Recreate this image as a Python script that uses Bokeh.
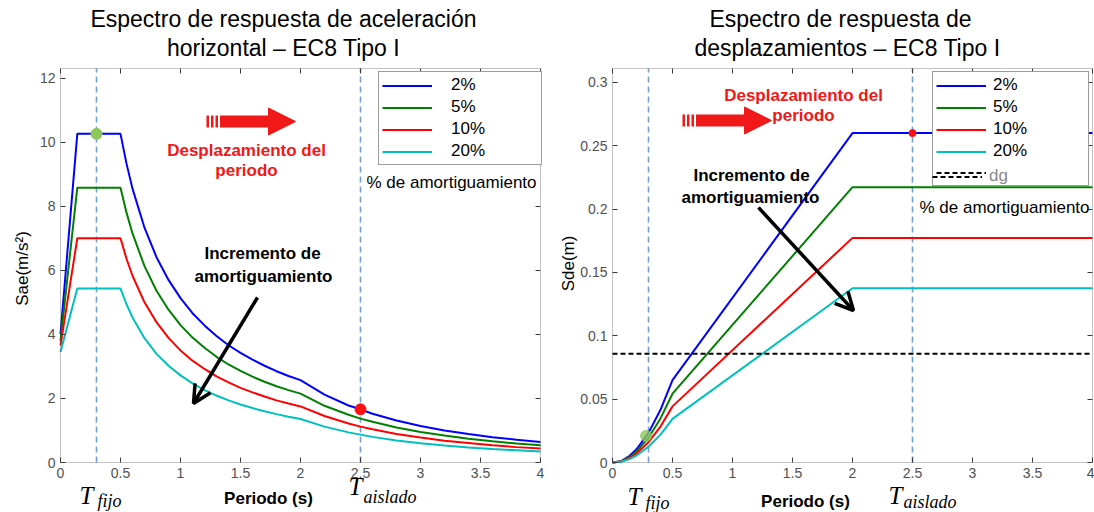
from math import pi

from bokeh.embed import file_html
from bokeh.layouts import row
from bokeh.models import (Arrow, BoxAnnotation, FixedTicker, Label, Legend, LegendItem,
                          LinearAxis, NormalHead, OpenHead, Range1d)
from bokeh.plotting import figure
from bokeh.resources import INLINE

# ---------------------------------------------------------------- data
amortiguamiento = ["2%", "5%", "10%", "20%"]
colores = ["#0000ff", "#008000", "#ff0000", "#00bfbf"]

# Acceleration spectrum Sae (m/s2) against period T (s)
periodo_sae = [0.0, 0.14, 0.5, 0.55, 0.6, 0.7, 0.8, 0.9, 1.0, 1.1, 1.2, 1.3, 1.4, 1.5,
               1.6, 1.7, 1.8, 1.9, 2.0, 2.2, 2.4, 2.5, 2.6, 2.8, 3.0, 3.2, 3.4, 3.6, 3.8, 4.0]
sae_2 = [4.00, 10.26, 10.26, 9.33, 8.55, 7.33, 6.41, 5.70, 5.13, 4.66, 4.28, 3.95, 3.66, 3.42,
         3.21, 3.02, 2.85, 2.70, 2.57, 2.12, 1.78, 1.66, 1.52, 1.31, 1.14, 1.00, 0.89, 0.79, 0.71, 0.64]
sae_5 = [3.80, 8.58, 8.58, 7.80, 7.15, 6.13, 5.36, 4.77, 4.29, 3.90, 3.58, 3.30, 3.06, 2.86,
         2.68, 2.52, 2.38, 2.26, 2.15, 1.77, 1.49, 1.37, 1.27, 1.09, 0.95, 0.84, 0.74, 0.66, 0.59, 0.54]
sae_10 = [3.65, 7.00, 7.00, 6.36, 5.83, 5.00, 4.38, 3.89, 3.50, 3.18, 2.92, 2.69, 2.50, 2.33,
          2.19, 2.06, 1.94, 1.84, 1.75, 1.45, 1.22, 1.12, 1.04, 0.89, 0.78, 0.68, 0.61, 0.54, 0.48, 0.44]
sae_20 = [3.45, 5.43, 5.43, 4.94, 4.53, 3.88, 3.39, 3.02, 2.72, 2.47, 2.26, 2.09, 1.94, 1.81,
          1.70, 1.60, 1.51, 1.43, 1.36, 1.12, 0.94, 0.87, 0.80, 0.69, 0.60, 0.53, 0.47, 0.42, 0.38, 0.34]

# Displacement spectrum Sde (m) against period T (s)
periodo_sde = [0.0, 0.07, 0.14, 0.2, 0.3, 0.4, 0.5, 2.0, 4.0]
sde_2 = [0.0, 0.0009, 0.0051, 0.0104, 0.0234, 0.0416, 0.0650, 0.2600, 0.2600]
sde_5 = [0.0, 0.0008, 0.0043, 0.0087, 0.0196, 0.0348, 0.0543, 0.2173, 0.2173]
sde_10 = [0.0, 0.0007, 0.0035, 0.0071, 0.0160, 0.0284, 0.0443, 0.1773, 0.1773]
sde_20 = [0.0, 0.0006, 0.0027, 0.0055, 0.0124, 0.0220, 0.0344, 0.1375, 0.1375]
dg = 0.0858  # design ground displacement (m)

t_fijo = 0.3
t_aislado = 2.5
# highlighted points: (T, value)
punto_fijo_sae = (0.3, 10.26)
punto_aislado_sae = (2.5, 1.66)
punto_fijo_sde = (0.28, 0.021)
punto_aislado_sde = (2.5, 0.26)

x_ticks = [0, 0.5, 1, 1.5, 2, 2.5, 3, 3.5, 4]
x_tick_labels = ["0", "0.5", "1", "1.5", "2", "2.5", "3", "3.5", "4"]
sae_ticks = [0, 2, 4, 6, 8, 10, 12]
sae_tick_labels = ["0", "2", "4", "6", "8", "10", "12"]
sde_ticks = [0, 0.05, 0.1, 0.15, 0.2, 0.25, 0.3]
sde_tick_labels = ["0", "0.05", "0.1", "0.15", "0.2", "0.25", "0.3"]
sae_max = 12.3
sde_max = 0.311

# ---------------------------------------------------------------- style
SANS = "Liberation Sans"
SERIF = "Liberation Serif"
AXIS = "#3a3a3a"
TICK_TXT = "#505050"
GUIDE = "#6f9fd8"
ROJO = "#f01818"
H = 512            # page height
BOX_BOTTOM = 462   # canvas row of the value 0
BOX_TOP = 68       # canvas row of the top of the axes box
PX_PER_S = 120.0
PAGE_LEFT = {}     # figure id -> page column of its canvas
ROW_H, ROW_GAP, PAD = 19, 2, 3


def make_fig(width, page_left, box_left, y_end, y_ticks, y_labels):
    """Whole-canvas frame; the axes are pinned at T = 0 / value = 0 inside it."""
    ppu = (BOX_BOTTOM - BOX_TOP) / y_end
    xr = Range1d(-box_left / PX_PER_S, (width - box_left) / PX_PER_S)
    yr = Range1d(-(H - BOX_BOTTOM) / ppu, BOX_BOTTOM / ppu)
    p = figure(width=width, height=H, x_range=xr, y_range=yr,
               output_backend="svg", toolbar_location=None,
               min_border=0, min_border_left=0, min_border_right=0,
               min_border_top=0, min_border_bottom=0)
    p.grid.visible = False
    p.outline_line_color = None
    p.background_fill_color = "white"
    p.border_fill_color = "white"
    p.xaxis[0].fixed_location = 0
    p.yaxis[0].fixed_location = 0
    for ax, ticks, labels in ((p.xaxis[0], x_ticks, x_tick_labels), (p.yaxis[0], y_ticks, y_labels)):
        ax.ticker = FixedTicker(ticks=ticks)
        ax.major_label_overrides = dict(zip(ticks, labels))
        ax.major_tick_in = 5
        ax.major_tick_out = 0
        ax.minor_tick_line_color = None
        ax.axis_line_color = None
        ax.major_tick_line_color = AXIS
        ax.major_label_text_font = SANS
        ax.major_label_text_font_size = "14px"
        ax.major_label_text_color = TICK_TXT
        ax.major_label_standoff = 5
    # mirrored ticks on the top and right edges of the box
    for ticks, side, loc in ((x_ticks, "above", y_end), (y_ticks, "right", x_ticks[-1])):
        ax = LinearAxis(ticker=FixedTicker(ticks=ticks), fixed_location=loc,
                        major_label_overrides={t: "" for t in ticks},
                        major_tick_in=5, major_tick_out=0, major_label_standoff=0,
                        major_label_text_font_size="1px",
                        minor_tick_line_color=None, axis_line_color=None,
                        major_tick_line_color=AXIS)
        p.add_layout(ax, side)
    p.add_layout(BoxAnnotation(left=x_ticks[0], right=x_ticks[-1], bottom=0, top=y_end,
                               fill_alpha=0, line_color=AXIS, line_width=1))
    PAGE_LEFT[p.id] = page_left
    return p


def note(p, text, px, py, size=17, bold=False, color="black", font=SANS,
         italic=False, align="center", baseline="middle", angle=0.0):
    style = "bold" if bold else ("italic" if italic else "normal")
    if baseline == "alphabetic":
        py -= 0.3 * size   # Bokeh draws the alphabetic baseline this far below the anchor
    p.add_layout(Label(x=px - PAGE_LEFT[p.id], y=H - py, x_units="screen", y_units="screen",
                       text=text, text_font=font, text_font_size=f"{size}px",
                       text_font_style=style, text_color=color, text_align=align,
                       text_baseline=baseline, angle=angle))


def arrow(p, x0, y0, x1, y1, head, color, width):
    off = PAGE_LEFT[p.id]
    p.add_layout(Arrow(x_start=x0 - off, y_start=H - y0, x_end=x1 - off, y_end=H - y1,
                       start_units="screen", end_units="screen",
                       end=head, line_color=color, line_width=width))


def red_arrow(p, x_tail, x_tip, y):
    for a in range(3):
        xa = x_tail + 4.5 * a
        arrow(p, xa, y, xa + 2.5, y, None, ROJO, 12)
    arrow(p, x_tail + 13.5, y, x_tip, y,
          NormalHead(size=27, fill_color=ROJO, line_color=ROJO), ROJO, 12)


def tlabel(p, sub, px, py, sub_dx, sub_dy):
    note(p, "T", px, py, size=25, font=SERIF, italic=True, align="left", baseline="alphabetic")
    note(p, sub, px + sub_dx, py + sub_dy, size=18, font=SERIF, italic=True,
         align="left", baseline="alphabetic")


def guides(p, y_end):
    for x in (t_fijo, t_aislado):
        p.line([x, x], [0, y_end], line_color=GUIDE, line_dash="6 4", line_width=1.6)


def legend_for(p, renderers, labels, left, top, label_width, standoff,
               text_color="black", boxed=True):
    n = len(labels)
    height = 2 * PAD + n * ROW_H + (n - 1) * ROW_GAP
    lg = Legend(items=[LegendItem(label=l, renderers=[r]) for l, r in zip(labels, renderers)],
                location=(left - PAGE_LEFT[p.id], H - top - height),
                padding=PAD, spacing=ROW_GAP, margin=0,
                glyph_width=50, glyph_height=ROW_H, label_height=ROW_H,
                label_width=label_width, label_standoff=standoff,
                label_text_font=SANS, label_text_font_size="17px", label_text_color=text_color,
                border_line_color=AXIS if boxed else None, border_line_width=1,
                background_fill_color="white", background_fill_alpha=1.0 if boxed else 0.0)
    p.add_layout(lg)


# ---------------------------------------------------------------- acceleration
pa = make_fig(560, 0, 60, sae_max, sae_ticks, sae_tick_labels)
guides(pa, sae_max)
ra = [pa.line(periodo_sae, s, line_color=c, line_width=2)
      for s, c in zip((sae_2, sae_5, sae_10, sae_20), colores)]
pa.scatter([punto_fijo_sae[0]], [punto_fijo_sae[1]], size=11, color="#8fc85a")
pa.scatter([punto_aislado_sae[0]], [punto_aislado_sae[1]], size=11, color="#ff1010")
legend_for(pa, ra, amortiguamiento, 378, 77, 87, 19)

note(pa, "Espectro de respuesta de aceleración", 283, 18, size=23)
note(pa, "horizontal – EC8 Tipo I", 283, 47, size=23)
note(pa, "Sae(m/s²)", 22, 268, angle=pi / 2)
note(pa, "% de amortiguamiento", 451, 182)
note(pa, "Desplazamiento del", 246, 150, bold=True, color=ROJO)
note(pa, "periodo", 246, 170, bold=True, color=ROJO)
note(pa, "Incremento de", 262, 253, bold=True)
note(pa, "amortiguamiento", 263, 276, bold=True)
note(pa, "Periodo (s)", 268, 503, bold=True, baseline="alphabetic")
tlabel(pa, "fijo", 79, 502, 18, 4)
tlabel(pa, "aislado", 348, 493, 15, 9)
red_arrow(pa, 206, 295, 121)
arrow(pa, 257, 297, 193, 403, OpenHead(size=18, line_width=3.5, line_color="black"), "black", 3.5)

# ---------------------------------------------------------------- displacement
pd_ = make_fig(534, 560, 52, sde_max, sde_ticks, sde_tick_labels)
guides(pd_, sde_max)
rd = [pd_.line(periodo_sde, s, line_color=c, line_width=2)
      for s, c in zip((sde_2, sde_5, sde_10, sde_20), colores)]
r_dg = pd_.line([x_ticks[0], x_ticks[-1]], [dg, dg], line_color="black",
                line_width=2, line_dash="5 3")
pd_.scatter([punto_fijo_sde[0]], [punto_fijo_sde[1]], size=11, color="#8fc85a", alpha=0.8)
pd_.scatter([punto_aislado_sde[0]], [punto_aislado_sde[1]], size=7, color="#ff1010")
# boxed legend with a blank fifth row, then the grey "dg" entry laid over that row
legend_for(pd_, rd + [r_dg], amortiguamiento + [" "], 932, 77, 92, 7)
legend_for(pd_, [r_dg], ["dg"], 932, 77 + 4 * (ROW_H + ROW_GAP), 92, 7,
           text_color="#8a8a8a", boxed=False)

note(pd_, "Espectro de respuesta de", 840, 18, size=23)
note(pd_, "desplazamientos – EC8 Tipo I", 847, 47, size=23)
note(pd_, "Sde(m)", 568, 263, angle=pi / 2)
note(pd_, "% de amortiguamiento", 1004, 207)
note(pd_, "Desplazamiento del", 803, 95, bold=True, color=ROJO)
note(pd_, "periodo", 803, 115, bold=True, color=ROJO)
note(pd_, "Incremento de", 751, 175, bold=True)
note(pd_, "amortiguamiento", 750, 197, bold=True)
note(pd_, "Periodo (s)", 805, 506, bold=True, baseline="alphabetic")
tlabel(pd_, "fijo", 627, 503, 18, 5)
tlabel(pd_, "aislado", 888, 502, 15, 5)
red_arrow(pd_, 682, 771, 120)
arrow(pd_, 758, 207, 853, 310, OpenHead(size=18, line_width=3.5, line_color="black"), "black", 3.5)

page = row(pa, pd_)
open("out.html", "w").write(file_html(page, INLINE))
